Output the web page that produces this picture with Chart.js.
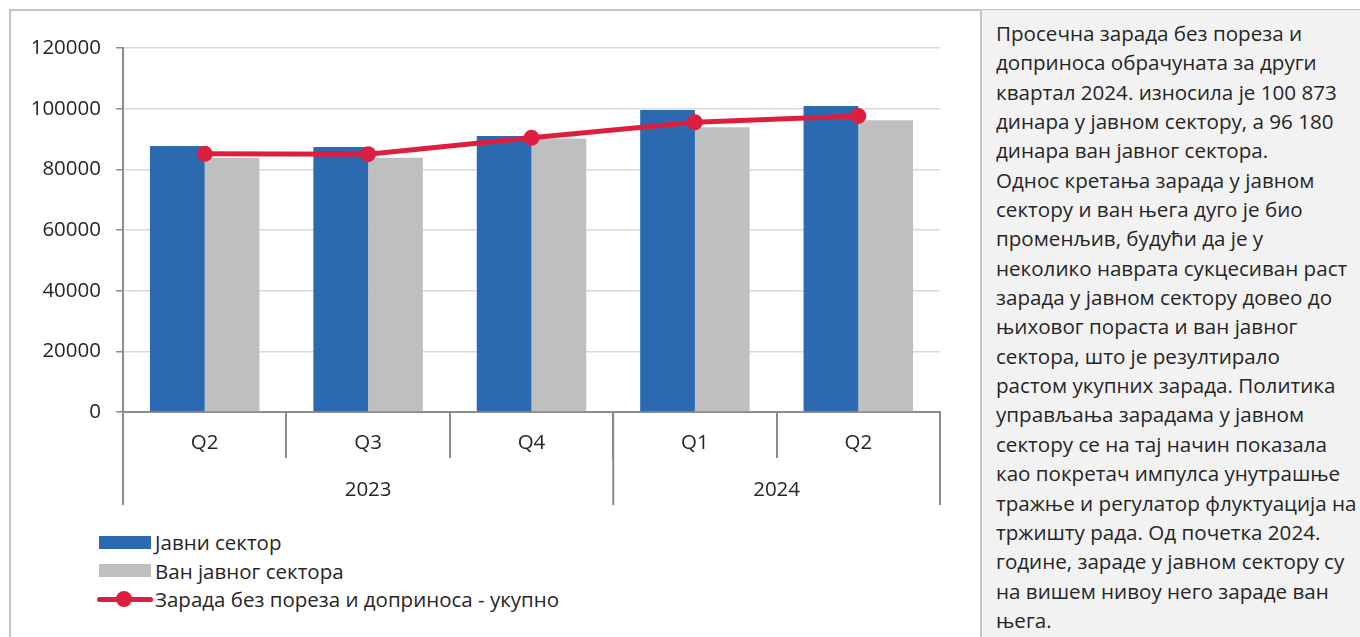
<!DOCTYPE html>
<html>
<head>
<meta charset="utf-8">
<script src="https://cdn.jsdelivr.net/npm/chart.js@4"></script>
<style>
  html, body { margin: 0; padding: 0; background: #fff; }
  body { width: 1360px; height: 637px; position: relative; overflow: hidden; font-family: "Open Sans", sans-serif; color: #262626; }
  #frame { position: absolute; left: 9px; top: 9px; width: 1351px; height: 628px; border-top: 2px solid #c4c4c4; border-left: 2px solid #c4c4c4; box-sizing: border-box; }
  #chartBox { position: absolute; left: 0; top: 0; width: 980px; height: 520px; }
  #legend { position: absolute; left: 97px; top: 528px; font-size: 20.5px; }
  .lg-row { height: 28.5px; display: flex; align-items: center; }
  .lg-sw { width: 56px; height: 28px; position: relative; margin-right: 2px; }
  #panel { position: absolute; left: 980px; top: 10px; width: 380px; height: 627px; background: #f2f2f2; border-left: 2px solid #c4c4c4; box-sizing: border-box; padding: 9px 0 0 14px; font-size: 20.6px; line-height: 29.35px; }
  #panel div { white-space: nowrap; }
</style>
</head>
<body>
<div id="frame"></div>
<div id="chartBox"><canvas id="myChart1" width="980" height="520"></canvas></div>
<div id="legend"></div>
<div id="panel"></div>
<script>
let categories = ['Q2', 'Q3', 'Q4', 'Q1', 'Q2'];
let years = ['2023', '2023', '2023', '2024', '2024'];
let javniSektor = [87700, 87400, 91000, 99600, 100873];
let vanJavnog = [83800, 83800, 90200, 93900, 96180];
let ukupno = [85100, 85000, 90400, 95500, 97600];
let yTicks = [0, 20000, 40000, 60000, 80000, 100000, 120000];

let panelText = [
    'Просечна зарада без пореза и',
    'доприноса обрачуната за други',
    'квартал 2024. износила је 100 873',
    'динара у јавном сектору, а 96 180',
    'динара ван јавног сектора.',
    'Однос кретања зарада у јавном',
    'сектору и ван њега дуго је био',
    'променљив, будући да је у',
    'неколико наврата сукцесиван раст',
    'зарада у јавном сектору довео до',
    'њиховог пораста и ван јавног',
    'сектора, што је резултирало',
    'растом укупних зарада. Политика',
    'управљања зарадама у јавном',
    'сектору се на тај начин показала',
    'као покретач импулса унутрашње',
    'тражње и регулатор флуктуација на',
    'тржишту рада. Од почетка 2024.',
    'године, зараде у јавном сектору су',
    'на вишем нивоу него зараде ван',
    'њега.'
];

let blue = '#2b6ab1';
let gray = '#bfbfbf';
let red = '#dc1f3f';
let axisColor = '#8c8c8c';
let textColor = '#262626';
let fontFam = '"Open Sans", sans-serif';
let fontSize = 20.5;

// year row under the quarters: separators + group labels
const yearRow = {
    id: 'yearRow',
    afterDraw(chart) {
        const c = chart.ctx;
        const x = chart.scales.x;
        const half = (x.getPixelForValue(1) - x.getPixelForValue(0)) / 2;
        const top = chart.chartArea.bottom;
        const bottom = top + 93;
        let groups = [];
        years.forEach((y, i) => {
            if (!groups.length || groups[groups.length - 1].label !== y) groups.push({ label: y, from: i, to: i });
            else groups[groups.length - 1].to = i;
        });
        c.save();
        c.strokeStyle = axisColor;
        c.lineWidth = 2;
        c.fillStyle = textColor;
        c.font = fontSize + 'px ' + fontFam;
        c.textAlign = 'center';
        c.textBaseline = 'middle';
        groups.forEach((g, k) => {
            const l = x.getPixelForValue(g.from) - half;
            const r = x.getPixelForValue(g.to) + half;
            c.beginPath();
            c.moveTo(l, top); c.lineTo(l, bottom);
            if (k === groups.length - 1) { c.moveTo(r, top); c.lineTo(r, bottom); }
            c.stroke();
            c.fillText(g.label, (l + r) / 2, top + 78);
        });
        c.restore();
    }
};

let ctx = document.getElementById('myChart1').getContext('2d');
let myChart1 = new Chart(ctx, {
    type: 'bar',
    data: {
        labels: categories,
        datasets: [{
            type: 'line',
            label: 'Зарада без пореза и доприноса - укупно',
            data: ukupno,
            borderColor: red,
            backgroundColor: red,
            borderWidth: 5,
            pointRadius: 8,
            pointBorderWidth: 0,
            pointBackgroundColor: red,
            order: 0
        }, {
            label: 'Јавни сектор',
            data: javniSektor,
            backgroundColor: blue,
            categoryPercentage: 0.67,
            barPercentage: 1,
            order: 1
        }, {
            label: 'Ван јавног сектора',
            data: vanJavnog,
            backgroundColor: gray,
            categoryPercentage: 0.67,
            barPercentage: 1,
            order: 2
        }]
    },
    options: {
        responsive: false,
        animation: false,
        layout: { padding: { left: 10, top: 48, right: 40, bottom: 0 } },
        plugins: {
            legend: { display: false },
            tooltip: { enabled: false }
        },
        scales: {
            x: {
                offset: true,
                grid: {
                    offset: true,
                    drawOnChartArea: true,
                    color: (c) => c.index === categories.length ? '#d9d9d9' : 'rgba(0,0,0,0)',
                    tickColor: axisColor,
                    tickLength: 46,
                    lineWidth: 2
                },
                border: { color: axisColor, width: 2 },
                ticks: { color: textColor, font: { family: fontFam, size: fontSize }, padding: -27, maxRotation: 0 },
                afterFit: (scale) => { scale.height = 108; }
            },
            y: {
                min: 0,
                max: 120000,
                afterBuildTicks: (scale) => { scale.ticks = yTicks.map(v => ({ value: v })); },
                grid: { color: '#d9d9d9', lineWidth: 1.5, tickColor: axisColor, tickLength: 7 },
                border: { color: axisColor, width: 2 },
                ticks: {
                    color: textColor,
                    font: { family: fontFam, size: fontSize },
                    padding: 15,
                    callback: (v) => String(v)
                },
                afterFit: (scale) => { scale.width = 113; }
            }
        }
    },
    plugins: [yearRow]
});

// legend in Excel order
let legendOrder = [1, 2, 0];
let legendEl = document.getElementById('legend');
legendOrder.forEach(i => {
    const ds = myChart1.data.datasets[i];
    const row = document.createElement('div');
    row.className = 'lg-row';
    const sw = document.createElement('div');
    sw.className = 'lg-sw';
    if (ds.type === 'line') {
        sw.innerHTML = '<div style="position:absolute;left:0;top:11.5px;width:56px;height:5px;border-radius:3px;background:' + ds.borderColor + '"></div>' +
            '<div style="position:absolute;left:19px;top:6px;width:16px;height:16px;border-radius:50%;background:' + ds.borderColor + '"></div>';
    } else {
        sw.innerHTML = '<div style="position:absolute;left:2px;top:7.5px;width:52px;height:13px;background:' + ds.backgroundColor + '"></div>';
    }
    row.appendChild(sw);
    const t = document.createElement('span');
    t.textContent = ds.label;
    row.appendChild(t);
    legendEl.appendChild(row);
});

let panel = document.getElementById('panel');
panelText.forEach(line => {
    const d = document.createElement('div');
    d.textContent = line;
    panel.appendChild(d);
});
</script>
</body>
</html>
